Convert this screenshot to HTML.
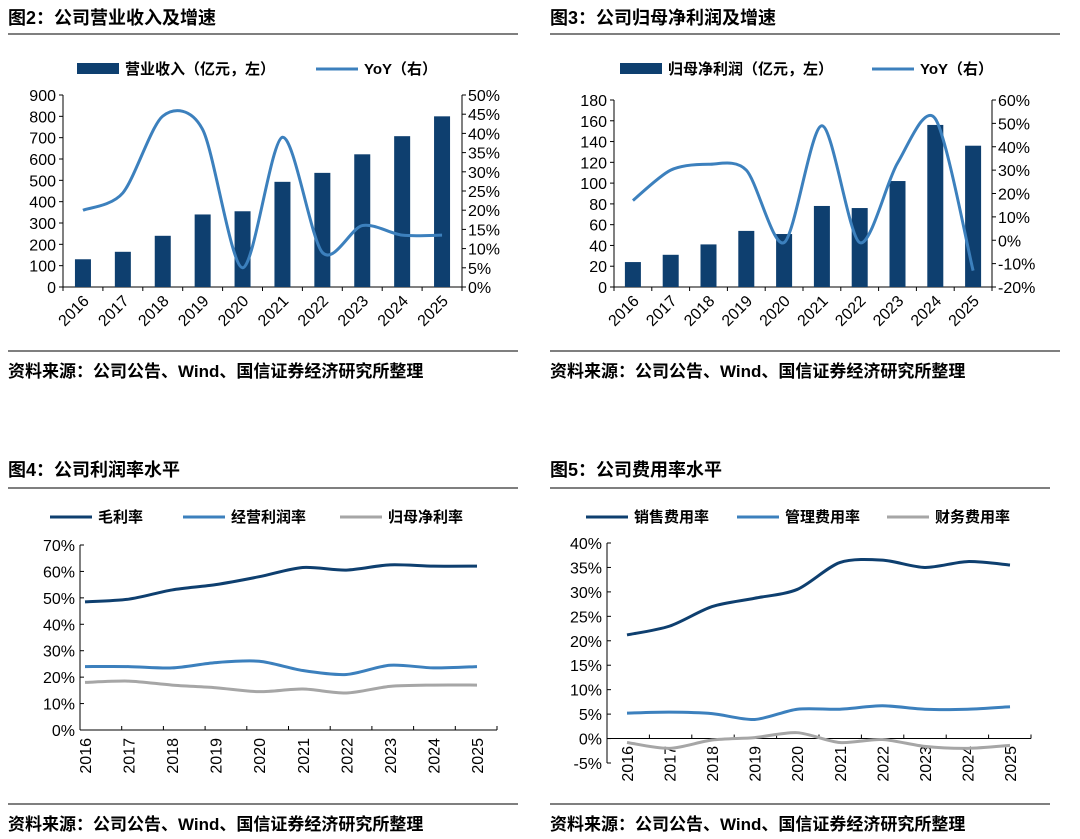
<!DOCTYPE html>
<html><head><meta charset="utf-8">
<style>
body{margin:0;background:#fff;}
svg{display:block;font-family:"Liberation Sans","Noto Sans CJK SC",sans-serif;}
</style></head>
<body>
<svg id="s" width="1080" height="839" viewBox="0 0 1080 839"></svg>
<script>
const years=['2016','2017','2018','2019','2020','2021','2022','2023','2024','2025'];
const revenue=[130,165,240,340,355,493,535,622,707,800];
const revenueYoY=[20,24.5,44.5,41,5,39,9,16,13.5,13.5];
const profit=[24,31,41,54,51,78,76,102,156,136];
const profitYoY=[17,30,32.5,30,-1,49,-1,33,52,-13];
const grossMargin=[48.5,49.5,53,55,58,61.5,60.5,62.5,62,62];
const opMargin=[24,24,23.5,25.5,26,22.5,21,24.5,23.5,24];
const netMargin=[18,18.5,17,16,14.5,15.5,14,16.5,17,17];
const salesExp=[21.2,23,27,28.7,30.5,36,36.5,35,36.2,35.5];
const adminExp=[5.2,5.4,5.1,3.9,6,6,6.7,6,6,6.5];
const finExp=[-0.8,-2,-0.3,0.2,1.2,-0.8,-0.2,-1.6,-2,-1.4];
const revTicks=[0,100,200,300,400,500,600,700,800,900];
const pct50Ticks=[0,5,10,15,20,25,30,35,40,45,50];
const profitTicks=[0,20,40,60,80,100,120,140,160,180];
const pct60Ticks=[-20,-10,0,10,20,30,40,50,60];
const pct70Ticks=[0,10,20,30,40,50,60,70];
const pct40Ticks=[-5,0,5,10,15,20,25,30,35,40];

const NAVY='#0e3f6f',BLUE='#3c80bd',GRAY='#a6a6a6';
const S=document.getElementById('s');
const NS='http://www.w3.org/2000/svg';
function el(t,a,p){const e=document.createElementNS(NS,t);for(const k in a)e.setAttribute(k,a[k]);(p||S).appendChild(e);return e;}
function txt(x,y,s,a,p){const e=el('text',Object.assign({x:x,y:y,'font-size':16,fill:'#000'},a),p);e.textContent=s;return e;}
function lin(d0,d1,r0,r1){return v=>r0+(v-d0)/(d1-d0)*(r1-r0);}
function smooth(pts){let d='M'+pts[0][0]+','+pts[0][1];for(let i=0;i<pts.length-1;i++){const p0=pts[i-1]||pts[i],p1=pts[i],p2=pts[i+1],p3=pts[i+2]||p2;const t=7;d+=` C${p1[0]+(p2[0]-p0[0])/t},${p1[1]+(p2[1]-p0[1])/t} ${p2[0]-(p3[0]-p1[0])/t},${p2[1]-(p3[1]-p1[1])/t} ${p2[0]},${p2[1]}`;}return d;}
function frame(g,x0,x1,title,ty,ry,sy){
  txt(x0,ty,title,{'font-size':18,'font-weight':'bold'},g);
  el('line',{x1:x0,x2:x1,y1:ry,y2:ry,stroke:'#555','stroke-width':1.5},g);
  el('line',{x1:x0,x2:x1,y1:sy,y2:sy,stroke:'#555','stroke-width':1.5},g);
  txt(x0,sy+26,'资料来源：公司公告、Wind、国信证券经济研究所整理',{'font-size':17,'font-weight':'bold'},g);
}
function legendItem(g,x,y,type,color,label){
  const it=el('g',{},g);
  
  
  if(type==='bar')el('rect',{x:x,y:y-6,width:42,height:11,fill:color},it);
  else el('line',{x1:x,x2:x+42,y1:y,y2:y,stroke:color,'stroke-width':3},it);
  txt(x+48,y+5,label,{'font-size':15,'font-weight':'bold'},it);
}

function barChart(o){
  const g=el('g',{});
  
  
  frame(g,o.fx0,o.fx1,o.title,24,34,351);
  legendItem(g,o.lx1,69,'bar',NAVY,o.l1);
  legendItem(g,o.lx2,69,'line',BLUE,'YoY（右）');
  const yL=lin(o.lt[0],o.lt[o.lt.length-1],o.yb,o.yt);
  const yR=lin(o.rt[0],o.rt[o.rt.length-1],o.yb,o.yt);
  const step=(o.ax1-o.ax0)/years.length;
  const xc=i=>o.ax0+step*(i+0.5);
  el('line',{x1:o.ax0,x2:o.ax0,y1:o.yt,y2:o.yb,stroke:'#000'},g);
  el('line',{x1:o.ax1,x2:o.ax1,y1:o.yt,y2:o.yb,stroke:'#000'},g);
  const zy=yL(0);
  el('line',{x1:o.ax0,x2:o.ax1,y1:zy,y2:zy,stroke:'#000'},g);
  o.lt.forEach(v=>{el('line',{x1:o.ax0-4,x2:o.ax0,y1:yL(v),y2:yL(v),stroke:'#000'},g);txt(o.ax0-7,yL(v)+6,String(v),{'text-anchor':'end'},g);});
  o.rt.forEach(v=>{el('line',{x1:o.ax1,x2:o.ax1+4,y1:yR(v),y2:yR(v),stroke:'#000'},g);txt(o.ax1+6,yR(v)+6,v+'%',{},g);});
  for(let i=0;i<=years.length;i++){const x=o.ax0+step*i;el('line',{x1:x,x2:x,y1:zy,y2:zy+4,stroke:'#000'},g);}
  years.forEach((y,i)=>{const t=txt(0,0,y,{'text-anchor':'end',transform:`translate(${xc(i)+7},${o.yb+15}) rotate(-45)`},g);});
  o.bars.forEach((v,i)=>{const r=el('rect',{x:xc(i)-8,y:yL(v),width:16,height:zy-yL(v),fill:NAVY},g);});
  const p=el('path',{d:smooth(o.line.map((v,i)=>[xc(i),yR(v)])),fill:'none',stroke:BLUE,'stroke-width':3},g);
  
}
barChart({name:'revenue-chart',fx0:8,fx1:518,title:'图2：公司营业收入及增速',l1:'营业收入（亿元，左）',lx1:77,lx2:316,ax0:63,ax1:462,yt:95,yb:287,lt:revTicks,rt:pct50Ticks,bars:revenue,line:revenueYoY});
barChart({name:'profit-chart',fx0:550,fx1:1060,title:'图3：公司归母净利润及增速',l1:'归母净利润（亿元，左）',lx1:620,lx2:872,ax0:614,ax1:992,yt:100,yb:287,lt:profitTicks,rt:pct60Ticks,bars:profit,line:profitYoY});

function lineChart(o){
  const g=el('g',{});
  
  
  frame(g,o.fx0,o.fx1,o.title,476,488,804);
  o.series.forEach((s,k)=>legendItem(g,o.lxs[k],517,'line',s.c,s.label));
  const y=lin(o.ticks[0],o.ticks[o.ticks.length-1],o.yb,o.yt);
  const step=(o.px1-o.px0)/(years.length-1);
  const xc=i=>o.px0+step*i;
  el('line',{x1:o.ax0,x2:o.ax0,y1:o.yt,y2:o.yb,stroke:'#000'},g);
  const zy=y(0);
  el('line',{x1:o.ax0,x2:o.ax1,y1:zy,y2:zy,stroke:'#000'},g);
  o.ticks.forEach(v=>{el('line',{x1:o.ax0,x2:o.ax0+4,y1:y(v),y2:y(v),stroke:'#000'},g);txt(o.ax0-5,y(v)+6,v+'%',{'text-anchor':'end'},g);});
  for(let i=0;i<=years.length;i++){const x=o.ax0+(o.ax1-o.ax0)/years.length*i;el('line',{x1:x,x2:x,y1:zy,y2:zy-4,stroke:'#000'},g);}
  years.forEach((yr,i)=>{const t=txt(0,0,yr,{'text-anchor':'end',transform:`translate(${xc(i)+6},${o.xly}) rotate(-90)`},g);});
  o.series.forEach(s=>{const p=el('path',{d:smooth(s.d.map((v,i)=>[xc(i),y(v)])),fill:'none',stroke:s.c,'stroke-width':3},g);});
}
lineChart({name:'margin-chart',fx0:8,fx1:518,title:'图4：公司利润率水平',ax0:80,ax1:497,px0:85,px1:477,yt:545,yb:730,xly:738,ticks:pct70Ticks,lxs:[50,183,340],
 series:[{d:grossMargin,c:NAVY,label:'毛利率',n:'gross-margin-line'},{d:opMargin,c:BLUE,label:'经营利润率',n:'operating-margin-line'},{d:netMargin,c:GRAY,label:'归母净利率',n:'net-margin-line'}]});
lineChart({name:'expense-chart',fx0:550,fx1:1050,title:'图5：公司费用率水平',ax0:607,ax1:1031,px0:627,px1:1010,yt:543,yb:763,xly:746,ticks:pct40Ticks,lxs:[586,737,887],
 series:[{d:salesExp,c:NAVY,label:'销售费用率',n:'sales-expense-line'},{d:adminExp,c:BLUE,label:'管理费用率',n:'admin-expense-line'},{d:finExp,c:GRAY,label:'财务费用率',n:'finance-expense-line'}]});
</script>
</body></html>
